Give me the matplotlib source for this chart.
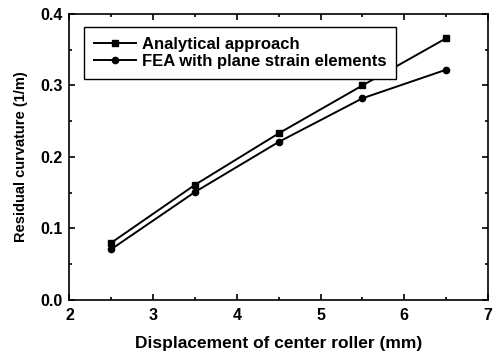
import matplotlib
matplotlib.use("Agg")
import matplotlib.pyplot as plt
from matplotlib.ticker import MultipleLocator, FormatStrFormatter

# dados das duas curvas
deslocamento = [2.5, 3.5, 4.5, 5.5, 6.5]
analitico = [0.080, 0.161, 0.233, 0.300, 0.366]
fea = [0.071, 0.151, 0.221, 0.282, 0.322]

plt.rcParams['font.family'] = ['Liberation Sans', 'DejaVu Sans']
plt.rcParams['font.weight'] = 'bold'

fig = plt.figure(figsize=(4.95, 3.57), dpi=100)
ax = fig.add_axes([0.1404, 0.160, 0.8456, 0.801])

ax.plot(deslocamento, analitico, color='black', lw=1.4, marker='s', ms=4.5,
        label='Analytical approach')
ax.plot(deslocamento, fea, color='black', lw=1.4, marker='o', ms=4.5,
        label='FEA with plane strain elements')

ax.set_xlim(2, 7)
ax.set_ylim(0, 0.4)
ax.xaxis.set_major_locator(MultipleLocator(1))
ax.xaxis.set_minor_locator(MultipleLocator(0.5))
ax.yaxis.set_major_locator(MultipleLocator(0.1))
ax.yaxis.set_minor_locator(MultipleLocator(0.05))
ax.yaxis.set_major_formatter(FormatStrFormatter('%.1f'))
ax.tick_params(which='both', direction='in', top=True, right=True, width=1.2,
               labelsize=11.5)
ax.tick_params(which='major', length=4)
ax.tick_params(which='minor', length=2.5)
ax.tick_params(axis='y', pad=5)
ax.tick_params(axis='x', pad=6)
for s in ax.spines.values():
    s.set_linewidth(1.2)

ax.set_xlabel('Displacement of center roller (mm)', fontsize=12.5,
              fontweight='bold', labelpad=9)
ax.set_ylabel('Residual curvature (1/m)', fontsize=10.5, fontweight='bold',
              labelpad=9)

leg = ax.legend(loc='upper left', bbox_to_anchor=(0.035, 0.955), fancybox=False,
                edgecolor='black', framealpha=1, fontsize=12,
                handlelength=2.5, borderpad=0.6, labelspacing=0.12,
                handletextpad=0.35, borderaxespad=0)
leg.get_frame().set_linewidth(1.0)
for t in leg.get_texts():
    t.set_fontweight('bold')

fig.savefig('out.png', dpi=100)
